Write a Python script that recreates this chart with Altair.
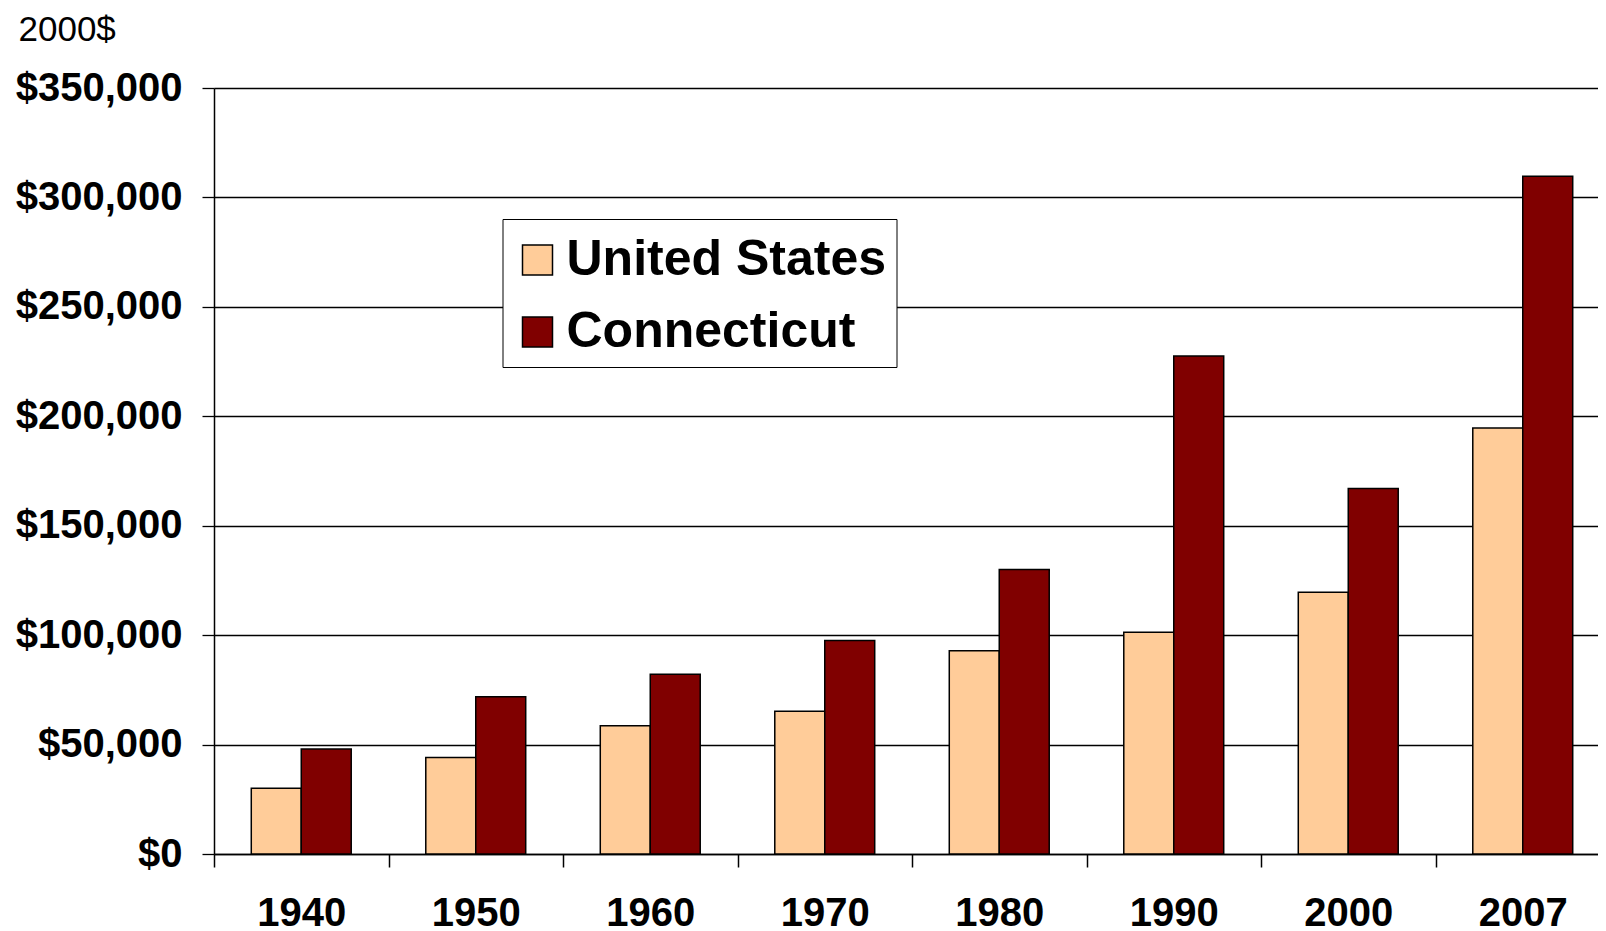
import altair as alt
import pandas as pd

years = ["1940", "1950", "1960", "1970", "1980", "1990", "2000", "2007"]
series = ["United States", "Connecticut"]
us_values = [30000, 44100, 58600, 65200, 92900, 101300, 119600, 194700]
ct_values = [48000, 71800, 82100, 97600, 130000, 227500, 167000, 309700]
colors = ["#FFCC99", "#800000"]
y_ticks = [0, 50000, 100000, 150000, 200000, 250000, 300000, 350000]

rows = []
for i, y in enumerate(years):
    rows.append({"year": y, "series": series[0], "value": us_values[i]})
    rows.append({"year": y, "series": series[1], "value": ct_values[i]})
df = pd.DataFrame(rows)

FONT = "Liberation Sans"

chart = alt.Chart(df).mark_bar(stroke="black", strokeWidth=1.5).encode(
    x=alt.X("year:N", sort=years,
            scale=alt.Scale(paddingInner=0, paddingOuter=0, range=[0, 1396]),
            axis=alt.Axis(title=None, labelAngle=0, tickBand="extent",
                          tickSize=13, tickColor="black", tickWidth=1.5,
                          domainColor="black", domainWidth=1.5,
                          labelFont=FONT, labelFontSize=40, labelFontWeight="bold",
                          labelColor="black", labelBaseline="alphabetic",
                          labelPadding=58, grid=False)),
    xOffset=alt.XOffset("series:N", sort=series,
                        scale=alt.Scale(paddingInner=0, paddingOuter=0.746)),
    y=alt.Y("value:Q",
            scale=alt.Scale(domain=[0, 350000], nice=False),
            axis=alt.Axis(values=y_ticks, format="$,.0f", title="2000$",
                          titleAngle=0, titleAlign="left", titleBaseline="alphabetic",
                          titleX=-196, titleY=-48, titleFont=FONT, titleFontSize=35,
                          titleFontWeight="normal", titleColor="black",
                          labelFont=FONT, labelFontSize=40, labelFontWeight="bold",
                          labelColor="black", labelPadding=20,
                          tickSize=12, tickColor="black", tickWidth=1.3,
                          domainColor="black", domainWidth=1.5,
                          grid=True, gridColor="black", gridWidth=1.3, gridOpacity=1)),
    color=alt.Color("series:N", sort=series,
                    scale=alt.Scale(domain=series, range=colors),
                    legend=alt.Legend(title=" ", titleFontSize=2, titlePadding=4,
                                      orient="none", legendX=288.5, legendY=131,
                                      fillColor="white", strokeColor="black",
                                      padding=10, symbolType="square", symbolSize=900,
                                      symbolStrokeColor="black", symbolStrokeWidth=1.5,
                                      labelFont=FONT, labelFontSize=50, labelFontWeight="bold",
                                      labelColor="black", labelOffset=4, labelLimit=600,
                                      rowPadding=22)),
).properties(
    width=1384,
    height=766,
    autosize=alt.AutoSizeParams(type="none"),
    padding={"left": 206, "top": 80, "right": 0, "bottom": 80},
).configure_view(stroke=None).configure(background="white")

chart.save("out.html", embed_options={"renderer": "svg", "actions": False})
